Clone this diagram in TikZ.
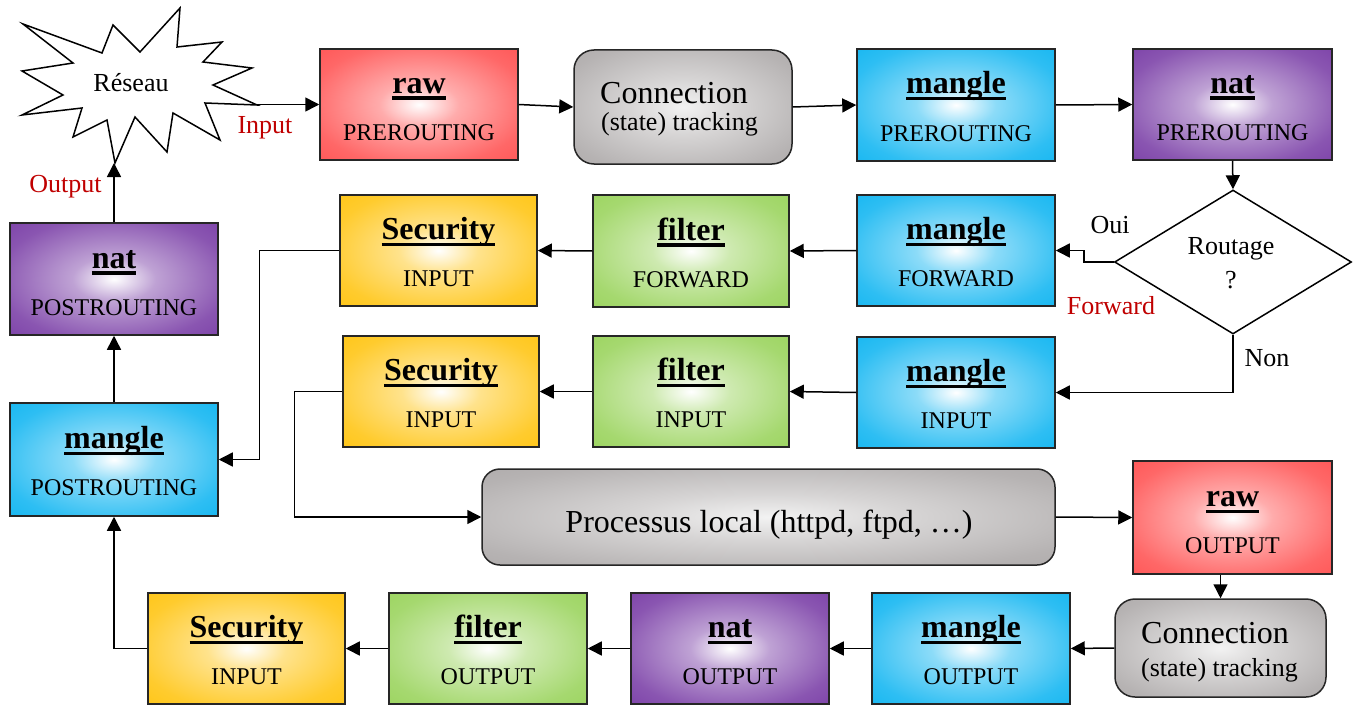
\documentclass[tikz,border=0pt]{standalone}
\usepackage{fontspec}
\setmainfont{Liberation Serif}
\usetikzlibrary{arrows.meta,shapes.geometric,calc}
\definecolor{redc}{RGB}{255,70,70}
\definecolor{bluec}{RGB}{0,176,240}
\definecolor{purpc}{RGB}{112,48,160}
\definecolor{orangec}{RGB}{255,192,0}
\definecolor{greenc}{RGB}{146,208,80}
\definecolor{greyc}{RGB}{166,162,162}
\definecolor{bordc}{RGB}{38,38,38}
\definecolor{redtxt}{RGB}{192,0,0}
\newcommand\mkshade[2]{\pgfdeclareradialshading{#1}{\pgfpointorigin}{color(0bp)=(white); color(10bp)=(#2!45!white); color(28bp)=(#2!82!white); color(46bp)=(#2); color(100bp)=(#2)}}
\mkshade{shred}{redc}
\mkshade{shblue}{bluec}
\mkshade{shpurp}{purpc}
\mkshade{shorange}{orangec}
\mkshade{shgreen}{greenc}
\pgfdeclareradialshading{shgrey}{\pgfpointorigin}{color(0bp)=(white!95!black); color(12bp)=(greyc!45!white); color(30bp)=(greyc!82!white); color(46bp)=(greyc); color(100bp)=(greyc)}
\newcommand\ulbf[1]{\setbox0\hbox{#1}\leavevmode\rlap{\vrule height -3pt depth 6.5pt width \wd0}\box0}
\tikzset{
  box/.style={draw=bordc, line width=1.5pt, inner sep=0pt, shade},
  ttl/.style={font=\fontsize{32}{36}\selectfont\bfseries, inner sep=0pt, anchor=base},
  subt/.style={font=\fontsize{24}{28}\selectfont, inner sep=0pt, anchor=base},
  lbl/.style={font=\fontsize{26}{30}\selectfont, inner sep=0pt, anchor=base},
  redlbl/.style={lbl, text=redtxt},
  big/.style={font=\fontsize{32}{36}\selectfont, inner sep=0pt},
  arr/.style={line width=1.5pt, draw=black, -{Triangle[length=14pt,width=14pt]}},
}
\newcommand\cbox[8]{%
  \node[box, shading=#6, minimum width=#4pt, minimum height=#5pt] (#1) at (#2,#3) {};
  \node[ttl] (#1-t) at ($(#1.center)+(0,-11)$) {\ulbf{#7}};
  \node[subt] (#1-s) at ($(#1.center)+(0,36)$) {#8};}
\begin{document}
\begin{tikzpicture}[x=1pt,y=-1pt]
\useasboundingbox[fill=white] (0,0) rectangle (1356,706);
% Reseau starburst
\draw[line width=1.5pt, fill=white] (23,24) -- (102,53) -- (113,25) -- (140,52) -- (180,8) -- (177,47) -- (222,42) -- (203,62) -- (252,68) -- (213,85) -- (257,105) -- (205,103) -- (220,140) -- (173,113) -- (167,152) -- (135,117) -- (115,163) -- (107,120) -- (73,137) -- (82,108) -- (22,115) -- (63,95) -- (22,71) -- (73,63) -- cycle;
\node[lbl] (reseau) at (131,92) {Réseau};
\coordinate (rin) at (257,104.5);
\coordinate (rout) at (114,163);
% top row
\cbox{rawP}{419}{104.5}{198}{111}{shred}{raw}{PREROUTING}
\node[box, shading=shgrey, rounded corners=20pt, minimum width=218pt, minimum height=114pt] (conn1) at (683,107) {};
\node[big, anchor=base west] (conn1-a) at (600,103) {Connection};
\node[lbl, anchor=base west] (conn1-b) at (601,131) {(state) tracking};
\cbox{mangP}{956}{105}{198}{112}{shblue}{mangle}{PREROUTING}
\cbox{natP}{1232.5}{104.5}{199}{111}{shpurp}{nat}{PREROUTING}
% row 2
\cbox{secF}{438.5}{250.5}{197}{111}{shorange}{Security}{INPUT}
\cbox{filF}{691}{251}{196}{112}{shgreen}{filter}{FORWARD}
\cbox{mangF}{956}{250.5}{198}{111}{shblue}{mangle}{FORWARD}
\node[draw=black, line width=1.5pt, fill=white, diamond, aspect=1.6, minimum width=237pt, minimum height=144pt, inner sep=0pt] (diam) at (1233,262) {};
\node[lbl] (diam-a) at (1231,254) {Routage};
\node[lbl] (diam-b) at (1231,288) {?};
% row 3
\cbox{secI}{441}{391.5}{196}{111}{shorange}{Security}{INPUT}
\cbox{filI}{691}{391.5}{196}{111}{shgreen}{filter}{INPUT}
\cbox{mangI}{956}{392.5}{198}{111}{shblue}{mangle}{INPUT}
% left column
\cbox{natPost}{114}{279}{208}{112}{shpurp}{nat}{POSTROUTING}
\cbox{mangPost}{114}{459.5}{208}{113}{shblue}{mangle}{POSTROUTING}
% processus
\node[box, shading=shgrey, rounded corners=18pt, minimum width=573pt, minimum height=96pt] (proc) at (768.5,517) {};
\node[big, anchor=base] (proc-t) at (769,532) {Processus local (httpd, ftpd, …)};
\cbox{rawO}{1232.5}{517.5}{199}{113}{shred}{raw}{OUTPUT}
\node[box, shading=shgrey, rounded corners=20pt, minimum width=211pt, minimum height=98pt] (conn2) at (1220.5,648) {};
\node[big, anchor=base west] (conn2-a) at (1141,643) {Connection};
\node[lbl, anchor=base west] (conn2-b) at (1141,676) {(state) tracking};
% bottom row
\cbox{secO}{246.5}{648.5}{197}{111}{shorange}{Security}{INPUT}
\cbox{filO}{488}{648.5}{198}{111}{shgreen}{filter}{OUTPUT}
\cbox{natO}{730}{648.5}{198}{111}{shpurp}{nat}{OUTPUT}
\cbox{mangO}{971}{648.5}{198}{111}{shblue}{mangle}{OUTPUT}
% connectors
\draw[arr] (rin) -- (rawP.west);
\draw[arr] (rawP.east) -- (conn1.west);
\draw[arr] (conn1.east) -- (mangP.west);
\draw[arr] (mangP.east) -- (natP.west);
\draw[arr] (natP.south) -- (diam.north);
\draw[arr] (diam.west) -- ++(-30,0) |- (mangF.east);
\draw[arr] (diam.south) |- (mangI.east);
\draw[arr] (mangF.west) -- (filF.east);
\draw[arr] (filF.west) -- (secF.east);
\draw[arr] (mangI.west) -- (filI.east);
\draw[arr] (filI.west) -- (secI.east);
\draw[arr] (secF.west) -- ++(-80,0) |- (mangPost.east);
\draw[arr] (secI.west) -- ++(-48,0) |- (proc.west);
\draw[arr] (proc.east) -- (rawO.west);
\draw[arr] (conn2.north |- rawO.south) -- (conn2.north);
\draw[arr] (conn2.west) -- (mangO.east);
\draw[arr] (mangO.west) -- (natO.east);
\draw[arr] (natO.west) -- (filO.east);
\draw[arr] (filO.west) -- (secO.east);
\draw[arr] (secO.west) -| (mangPost.south);
\draw[arr] (mangPost.north) -- (natPost.south);
\draw[arr] (natPost.north) -- (rout);
% labels
\node[redlbl] (l-input) at (265,133) {Input};
\node[redlbl] (l-output) at (65.5,192) {Output};
\node[lbl] (l-oui) at (1110,233) {Oui};
\node[redlbl] (l-forward) at (1111,314) {Forward};
\node[lbl] (l-non) at (1267,366) {Non};
\end{tikzpicture}
\end{document}
